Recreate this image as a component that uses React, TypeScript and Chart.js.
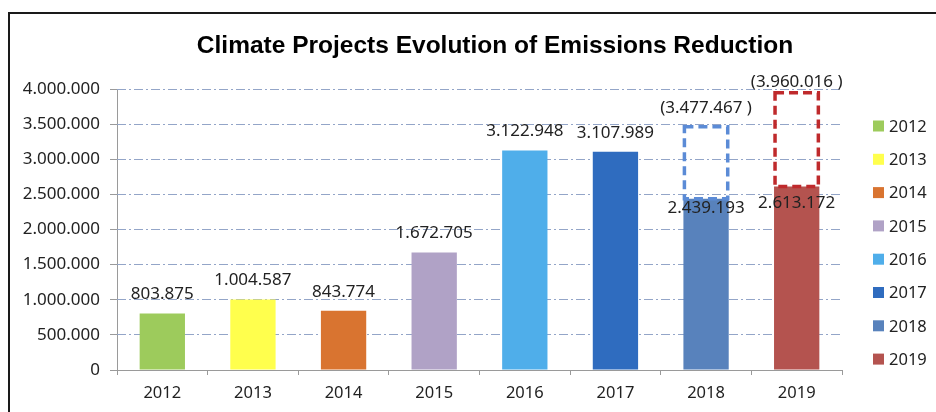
import React, { useEffect, useRef } from "react";
import { Chart, registerables } from "chart.js";

Chart.register(...registerables);

const chartTitle = "Climate Projects Evolution of Emissions Reduction";
const years = ["2012", "2013", "2014", "2015", "2016", "2017", "2018", "2019"];
const reductions = [803875, 1004587, 843774, 1672705, 3122948, 3107989, 2439193, 2613172];
const targets: (number | null)[] = [null, null, null, null, null, null, 3477467, 3960016];
const yMin = 0;
const yMax = 4000000;
const yStep = 500000;

const barColors = ["#9DCB5C", "#FFFF4D", "#D97430", "#B0A2C6", "#4FAEEA", "#2F6CBF", "#5882BC", "#B4534F"];
const targetColors = [null, null, null, null, null, null, "#5B8BD6", "#BF2A2C"];
const valueLabelDy = [-19, -19, -19, -19, -19, -19, 10, 17];
const targetLabelDy = [0, 0, 0, 0, 0, 0, -18, -10];

const fmt = (n: number) => String(Math.round(n)).replace(/\B(?=(\d{3})+(?!\d))/g, ".");

const FONT = '"Noto Sans", "Open Sans", sans-serif';
const AXIS_GRAY = "#9a9a9a";

const decor = {
  id: "decor",
  afterDatasetsDraw(chart: any) {
    const { ctx, chartArea, scales } = chart;
    const y = scales.y;
    const meta = chart.getDatasetMeta(0);
    ctx.save();

    // dashed target boxes
    meta.data.forEach((bar: any, i: number) => {
      const t = targets[i];
      if (t == null) return;
      const { x: cx, width } = bar.getProps(["x", "width"], true);
      const left = cx - width / 2;
      const top = y.getPixelForValue(t);
      const bottom = y.getPixelForValue(reductions[i]);
      ctx.strokeStyle = targetColors[i];
      ctx.lineWidth = 3.5;
      ctx.setLineDash([9, 5]);
      ctx.strokeRect(left + 1, top + 1, width - 2, bottom - top - 1);
    });
    ctx.setLineDash([]);

    // value labels
    ctx.font = `17px ${FONT}`;
    ctx.fillStyle = "#222";
    ctx.textAlign = "center";
    ctx.textBaseline = "middle";
    meta.data.forEach((bar: any, i: number) => {
      const { x: cx } = bar.getProps(["x"], true);
      const topPx = y.getPixelForValue(reductions[i]);
      ctx.fillText(fmt(reductions[i]), cx, topPx + valueLabelDy[i]);
      const t = targets[i];
      if (t != null) {
        ctx.fillText(`(${fmt(t)} )`, cx, y.getPixelForValue(t) + targetLabelDy[i]);
      }
    });

    // title
    ctx.font = `bold 24.5px "Liberation Sans", Arial, sans-serif`;
    ctx.fillStyle = "#000";
    ctx.fillText(chartTitle, 495, 46);

    // legend
    ctx.font = `16.5px ${FONT}`;
    ctx.textAlign = "left";
    const lx = chartArea.right + 31;
    const ly0 = chartArea.top + 37;
    years.forEach((yr, i) => {
      const cy = ly0 + i * 33.3;
      ctx.fillStyle = barColors[i];
      ctx.fillRect(lx, cy - 5.5, 11, 11);
      ctx.fillStyle = "#222";
      ctx.fillText(yr, lx + 16, cy + 1);
    });

    ctx.restore();
  },
};

export default function App() {
  const ref = useRef<HTMLCanvasElement | null>(null);

  useEffect(() => {
    if (!ref.current) return;
    const chart = new Chart(ref.current, {
      type: "bar",
      data: {
        labels: years,
        datasets: [
          {
            label: "Emissions Reduction",
            data: reductions,
            backgroundColor: barColors,
            borderWidth: 0,
            barPercentage: 0.5,
            categoryPercentage: 1.0,
          },
        ],
      },
      options: {
        responsive: false,
        animation: false,
        devicePixelRatio: 1,
        layout: { padding: { top: 89, left: 0, right: 94, bottom: 0 } },
        plugins: {
          legend: { display: false },
          title: { display: false },
          tooltip: { enabled: false },
        },
        scales: {
          x: {
            offset: true,
            afterFit: (scale: any) => {
              scale.height = 42;
            },
            grid: {
              offset: true,
              drawOnChartArea: true,
              drawTicks: true,
              tickLength: 5,
              lineWidth: 1,
              color: (c: any) => (c.index === 0 ? AXIS_GRAY : "rgba(0,0,0,0)"),
              tickColor: AXIS_GRAY,
            },
            border: { display: true, color: AXIS_GRAY, width: 1 },
            ticks: {
              color: "#222",
              font: { family: FONT, size: 16.5 },
              padding: 8,
            },
          },
          y: {
            min: yMin,
            max: yMax,
            afterFit: (scale: any) => {
              scale.width = 117;
            },
            ticks: {
              stepSize: yStep,
              color: "#222",
              font: { family: FONT, size: 17 },
              padding: 10,
              callback: (v: any) => fmt(Number(v)),
            },
            grid: {
              color: (c: any) => (c.index === 0 ? "rgba(0,0,0,0)" : "#93A5C8"),
              lineWidth: 1,
              tickLength: 7,
              tickColor: AXIS_GRAY,
              tickBorderDash: [],
            } as any,
            border: { display: false, dash: [9, 3, 2, 3] } as any,
          },
        },
      },
      plugins: [decor],
    });
    return () => chart.destroy();
  }, []);

  return (
    <div style={{ position: "absolute", left: 0, top: 0, width: 936, height: 412, background: "#fff", overflow: "hidden" }}>
      <div
        style={{
          position: "absolute",
          left: 8,
          top: 12,
          width: 1000,
          height: 500,
          borderLeft: "2px solid #1a1a1a",
          borderTop: "2px solid #1a1a1a",
        }}
      />
      <canvas ref={ref} width={936} height={412} style={{ position: "absolute", left: 0, top: 0 }} />
    </div>
  );
}
